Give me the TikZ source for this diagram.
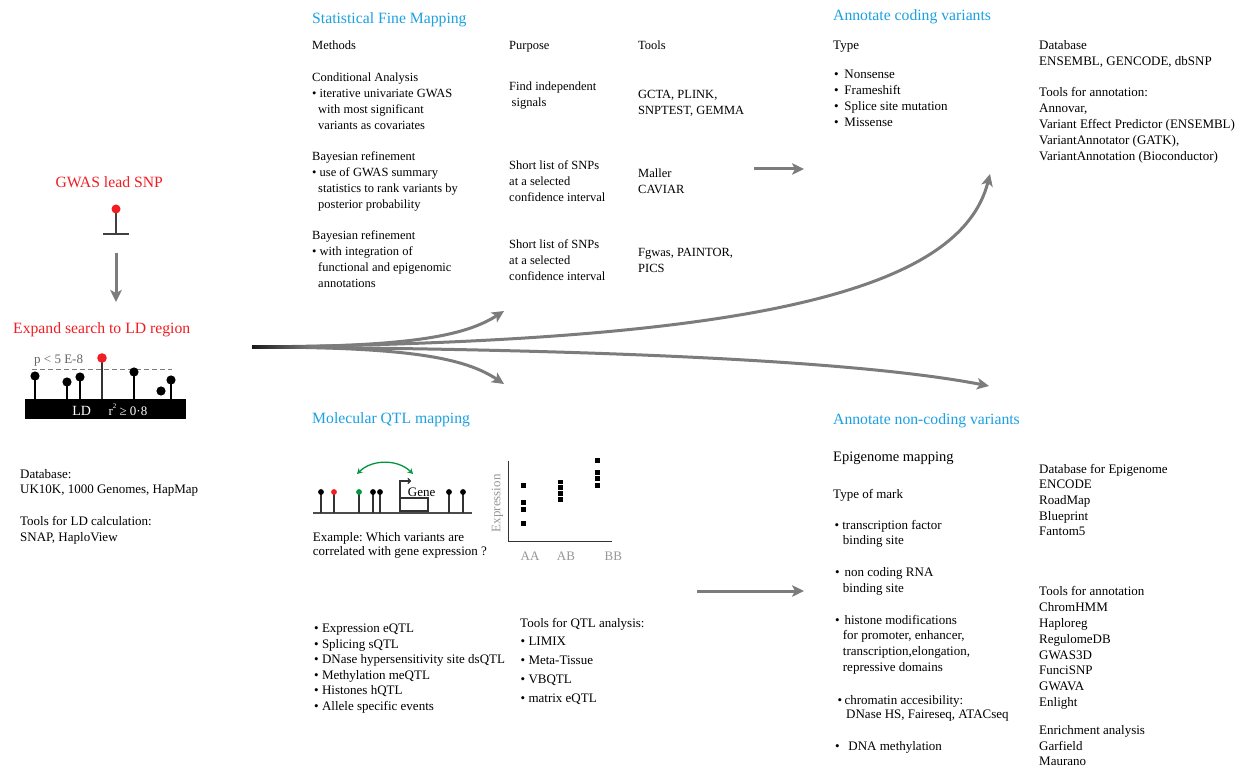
\documentclass[tikz,border=0pt]{standalone}
\usepackage{fontspec}
\setmainfont{Liberation Serif}
\usetikzlibrary{arrows.meta}
\definecolor{ttlblue}{RGB}{27,161,226}
\definecolor{snpred}{RGB}{240,30,36}
\definecolor{arrgray}{RGB}{124,124,124}
\definecolor{qgreen}{RGB}{0,150,64}
\definecolor{lblgray}{RGB}{150,150,150}
\newcommand{\ml}[1]{\begin{tabular}[t]{@{}l@{}}#1\end{tabular}}
\frenchspacing
\tikzset{
  body/.style={anchor=base west, inner sep=0pt, font=\fontsize{13}{15.9}\selectfont},
  fmtext/.style={anchor=base west, inner sep=0pt, font=\fontsize{12.5}{15.9}\selectfont},
  ttl/.style={anchor=base west, inner sep=0pt, text=ttlblue, font=\fontsize{15.7}{19}\selectfont},
  redttl/.style={anchor=base, inner sep=0pt, text=snpred, font=\fontsize{15.7}{19}\selectfont},
  flow/.style={draw=arrgray, line width=3pt, -{Stealth[length=12pt,width=11.5pt,inset=3pt]}},
  stemline/.style={line width=1.2pt, draw=black},
  qstem/.style={line width=1.1pt, draw=black!80},
  sq/.style={fill=black, draw=white, line width=0.4pt}
}
\begin{document}
\begin{tikzpicture}[x=1pt,y=-1pt]
\useasboundingbox[fill=white] (0,0) rectangle (1244,767);

% ---------------- Left panel ----------------
\node[redttl] (gwas) at (109.2,188) {GWAS lead SNP};
\draw[line width=1.3pt, draw=black!75] (116,209) -- (116,234);
\draw[line width=1.3pt, draw=black!75] (103,234) -- (129,234);
\fill[snpred] (116,209) circle (4.5);
\coordinate (g1) at (116,253);
\coordinate (g2) at (116,302);
\draw[flow] (g1) -- (g2);
\node[redttl] (expand) at (101.7,333.5) {Expand search to LD region};

% LD plot
\fill[black] (25,399) rectangle (186,419);
\draw[arrgray, line width=1pt, dash pattern=on 5pt off 3pt] (32,369) -- (172,369);
\node[body, text=black!60] (pval) at (34,363.5) {p < 5 E-8};
\foreach \xx/\yy in {35/376, 67/382, 80/377, 134/372, 171/380}{
  \draw[stemline] (\xx,\yy) -- (\xx,399);
  \fill[black] (\xx,\yy) circle (4.6);
}
\fill[black] (161,391) circle (4.6);
\draw[line width=1.3pt, draw=black!80] (102,358) -- (102,399);
\fill[snpred] (102,358) circle (4.8);
\node[anchor=base, inner sep=0pt, text=white, font=\fontsize{14}{14}\selectfont] (ldl) at (81.7,415) {LD};
\node[anchor=base west, inner sep=0pt, text=white, font=\fontsize{13}{14}\selectfont] (rsq) at (108.3,415) {r\raisebox{0.5em}{\fontsize{7}{7}\selectfont 2} ≥ 0·8};

\node[body] (ldb) at (20,478) {\ml{Database:\\UK10K, 1000 Genomes, HapMap}};
\node[body, font=\fontsize{13}{16.3}\selectfont] (ldt) at (20,525) {\ml{Tools for LD calculation:\\SNAP, HaploView}};

% ---------------- Statistical Fine Mapping ----------------
\node[ttl] (fmttl) at (312,23.5) {Statistical Fine Mapping};
\node[fmtext] (meth) at (312,50) {Methods};
\node[fmtext] (purp) at (509,50) {Purpose};
\node[fmtext] (tools) at (638,50) {Tools};

\node[fmtext] (cond) at (312,82) {\ml{Conditional Analysis\\\textbullet{} iterative univariate GWAS\\\hspace{6pt}with most significant\\\hspace{6pt}variants as covariates}};
\node[fmtext] (find) at (509,91) {\ml{Find independent\\\hspace{2.5pt}signals}};
\node[fmtext] (gcta) at (638,99) {\ml{GCTA, PLINK,\\SNPTEST, GEMMA}};

\node[fmtext] (bay1) at (312,161) {\ml{Bayesian refinement\\\textbullet{} use of GWAS summary\\\hspace{6pt}statistics to rank variants by\\\hspace{6pt}posterior probability}};
\node[fmtext] (sl1) at (509,170) {\ml{Short list of SNPs\\at a selected\\confidence interval}};
\node[fmtext] (mall) at (638,177.5) {\ml{Maller\\CAVIAR}};

\node[fmtext] (bay2) at (312,240) {\ml{Bayesian refinement\\\textbullet{} with integration of\\\hspace{6pt}functional and epigenomic\\\hspace{6pt}annotations}};
\node[fmtext] (sl2) at (509,249) {\ml{Short list of SNPs\\at a selected\\confidence interval}};
\node[fmtext] (fgw) at (638,257) {\ml{Fgwas, PAINTOR,\\PICS}};

% ---------------- Annotate coding variants ----------------
\node[ttl] (codttl) at (833,21) {Annotate coding variants};
\node[body] (ctype) at (833,50) {Type};
\node[body, font=\fontsize{13}{16}\selectfont] (cbul) at (834,79) {\ml{\textbullet\hspace{5.7pt}Nonsense\\\textbullet\hspace{5.7pt}Frameshift\\\textbullet\hspace{5.7pt}Splice site mutation\\\textbullet\hspace{5.7pt}Missense}};
\node[body] (cdb) at (1039,50) {\ml{Database\\ENSEMBL, GENCODE, dbSNP}};
\node[body, font=\fontsize{13}{16}\selectfont] (ctool) at (1039,97) {\ml{Tools for annotation:\\Annovar,\\Variant Effect Predictor (ENSEMBL)\\VariantAnnotator (GATK),\\VariantAnnotation (Bioconductor)}};

% ---------------- Molecular QTL mapping ----------------
\node[ttl] (qtlttl) at (312,423) {Molecular QTL mapping};
\draw[line width=1.5pt, draw=black!70] (313,513) -- (472,513);
\foreach \xx/\cc in {321/black, 334/snpred, 359/qgreen, 373/black, 380/black, 449/black, 463/black}{
  \draw[qstem] (\xx,492) -- (\xx,513);
  \fill[\cc] (\xx,492) circle (2.9);
}
\draw[line width=1.2pt, draw=black!80] (400,498) rectangle (428,511);
\draw[line width=1.2pt, draw=black!80, -{To[length=3.5pt,width=6pt]}] (400,511) -- (400,481) -- (411,481);
\node[anchor=base, inner sep=0pt, font=\fontsize{13}{15}\selectfont] (gene) at (421.7,496) {Gene};
\coordinate (ga) at (357,474);
\coordinate (gb) at (413,474);
\draw[qgreen, line width=1.3pt, {Stealth[length=5.5pt,width=6pt]}-{Stealth[length=5.5pt,width=6pt]}] (ga) .. controls (372,459) and (398,459) .. (gb);
\node[body, font=\fontsize{13}{14.4}\selectfont] (exq) at (312.7,541) {\ml{Example: Which variants are\\correlated with gene expression ?}};

% scatter plot
\draw[line width=1.3pt, draw=black!80] (508.3,460.7) -- (508.3,541.7) -- (611.7,541.7);
\node[rotate=90, inner sep=0pt, text=lblgray, font=\fontsize{13}{15}\selectfont] (expr) at (497.5,503.3) {Expression};
\node[inner sep=0pt, text=lblgray, font=\fontsize{13}{15}\selectfont] (aa) at (530,556.7) {AA};
\node[inner sep=0pt, text=lblgray, font=\fontsize{13}{15}\selectfont] (ab) at (566,556.7) {AB};
\node[inner sep=0pt, text=lblgray, font=\fontsize{13}{15}\selectfont] (bb) at (613.3,556.7) {BB};
\foreach \xx/\yy in {523.3/485, 523.3/502.3, 523.3/509.3, 523.3/523.3, 560/481.7, 560/487.5, 560/493.3, 560/499, 597.3/460, 597.3/472.3, 597.3/478.3, 597.3/485}{
  \filldraw[sq] (\xx-3,\yy-3) rectangle (\xx+3,\yy+3);
}

\node[body, font=\fontsize{13}{15.6}\selectfont] (qlist) at (314,632.5) {\ml{\textbullet{} Expression eQTL\\\textbullet{} Splicing sQTL\\\textbullet{} DNase hypersensitivity site dsQTL\\\textbullet{} Methylation meQTL\\\textbullet{} Histones hQTL\\\textbullet{} Allele specific events}};
\node[body] (qtools) at (520,627) {Tools for QTL analysis:};
\node[body, font=\fontsize{13}{18.9}\selectfont] (qtl2) at (520.5,645.5) {\ml{\textbullet{} LIMIX\\\textbullet{} Meta-Tissue\\\textbullet{} VBQTL\\\textbullet{} matrix eQTL}};

% ---------------- Annotate non-coding variants ----------------
\node[ttl] (ncttl) at (833,424) {Annotate non-coding variants};
\node[body, font=\fontsize{14.5}{17}\selectfont] (epi) at (833,461.5) {Epigenome mapping};
\node[body] (tom) at (833,498) {Type of mark};
\node[body, font=\fontsize{13}{15.8}\selectfont] (tf) at (834.3,529) {\ml{\textbullet{} transcription factor\\\hspace{8.4pt}binding site}};
\node[body, font=\fontsize{13}{16}\selectfont] (ncr) at (835,576.7) {\ml{\textbullet\hspace{4.8pt}non coding RNA\\\hspace{7.7pt}binding site}};
\node[body, font=\fontsize{13}{15.9}\selectfont] (his) at (835,624) {\ml{\textbullet\hspace{4.8pt}histone modifications\\\hspace{7.7pt}for promoter, enhancer,\\\hspace{7.7pt}transcription,elongation,\\\hspace{7.7pt}repressive domains}};
\node[body, font=\fontsize{13}{14.4}\selectfont] (chr) at (837.3,704) {\ml{\textbullet\hspace{2.5pt}chromatin accesibility:\\\hspace{8.7pt}DNase HS, Faireseq, ATACseq}};
\node[body] (dnam) at (835,750.7) {\textbullet\hspace{8.7pt}DNA methylation};

\node[body, font=\fontsize{13}{15.7}\selectfont] (edb) at (1039,473) {\ml{Database for Epigenome\\ENCODE\\RoadMap\\Blueprint\\Fantom5}};
\node[body, font=\fontsize{13}{15.85}\selectfont] (etool) at (1039,595.7) {\ml{Tools for annotation\\ChromHMM\\Haploreg\\RegulomeDB\\GWAS3D\\FunciSNP\\GWAVA\\Enlight}};
\node[body, font=\fontsize{13}{15.5}\selectfont] (enr) at (1039,734.7) {\ml{Enrichment analysis\\Garfield\\Maurano}};

% ---------------- Arrows ----------------
\coordinate (fan) at (252,347);
\coordinate (t1) at (504,311);
\coordinate (t2) at (990,174);
\coordinate (t3) at (504,384);
\coordinate (t4) at (989,386);
\draw[flow] (fan) .. controls (410,347) and (465,336) .. (t1);
\draw[flow] (fan) .. controls (750,342) and (960,292) .. (t2);
\draw[flow] (fan) .. controls (410,347) and (465,358) .. (t3);
\draw[flow] (fan) .. controls (600,349) and (860,361) .. (t4);
\shade[left color=black!90, right color=arrgray] (252,345.5) rectangle (312,348.5);

\coordinate (s1) at (754,169);
\coordinate (s2) at (804,169);
\draw[flow] (s1) -- (s2);
\coordinate (b1) at (697,591);
\coordinate (b2) at (804,591);
\draw[flow] (b1) -- (b2);
\end{tikzpicture}
\end{document}
